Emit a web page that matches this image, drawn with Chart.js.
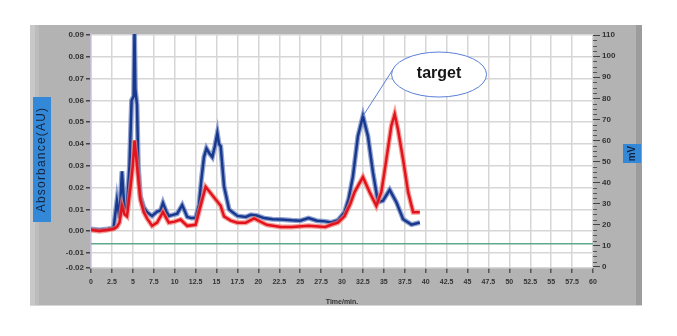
<!DOCTYPE html>
<html>
<head>
<meta charset="utf-8">
<script src="https://cdn.jsdelivr.net/npm/chart.js@4.4.0/dist/chart.umd.min.js"></script>
<style>
    html, body { margin: 0; padding: 0; background: #fff; }
</style>
</head>
<body>
<canvas id="chart" width="677" height="336"></canvas>
<script>
// Chromatogram - absorbance (AU, left axis) and detector signal (mV, right axis)

// --- Data ---
const blueTimes = [0, 1, 2, 2.7, 3.1, 3.4, 3.7, 4.0, 4.3, 4.6, 4.85, 5.1, 5.2, 5.3, 5.5, 5.65, 5.9, 6.3, 6.7, 7.3, 7.9, 8.3, 8.6, 9.0, 9.3, 9.8, 10.3, 10.9, 11.5, 12.0, 12.5, 12.9, 13.2, 13.5, 13.8, 14.1, 14.5, 14.8, 15.1, 15.3, 15.5, 15.9, 16.5, 17.0, 17.5, 18.5, 19.1, 19.8, 20.7, 21.7, 22.7, 24, 25, 26, 27, 28, 28.7, 29.5, 30.3, 30.8, 31.3, 31.9, 32.5, 33.1, 33.7, 34.3, 34.9, 35.7, 36.5, 37.3, 38.3, 39.3];
const blueAU = [0.001, 0.0005, 0.001, 0.0015, 0.014, 0.006, 0.0275, 0.010, 0.0115, 0.030, 0.060, 0.062, 0.092, 0.065, 0.058, 0.030, 0.016, 0.011, 0.0087, 0.007, 0.009, 0.0095, 0.013, 0.009, 0.007, 0.0075, 0.008, 0.012, 0.0065, 0.006, 0.006, 0.012, 0.024, 0.034, 0.038, 0.036, 0.034, 0.039, 0.045, 0.040, 0.039, 0.0206, 0.010, 0.0085, 0.007, 0.0065, 0.0075, 0.0072, 0.006, 0.0055, 0.0054, 0.005, 0.0048, 0.006, 0.0048, 0.0045, 0.004, 0.005, 0.0087, 0.015, 0.025, 0.0436, 0.0528, 0.0436, 0.027, 0.0133, 0.014, 0.019, 0.0133, 0.0055, 0.003, 0.004];

const redTimes = [0, 1, 2, 2.7, 3.1, 3.4, 3.7, 4.0, 4.3, 4.7, 5.0, 5.2, 5.5, 5.9, 6.3, 6.7, 7.3, 7.9, 8.6, 9.3, 10.0, 10.7, 11.5, 12.5, 13.1, 13.7, 14.1, 14.5, 15.1, 15.5, 15.9, 16.7, 17.5, 18.5, 19.5, 21, 22.7, 24, 26, 28, 28.7, 29.5, 30.3, 31, 31.5, 32.5, 33.3, 34.1, 34.7, 35.3, 35.9, 36.3, 36.7, 37.3, 37.9, 38.5, 39.3];
const redMV = [17.5, 17, 17.5, 18, 19, 21, 29, 25, 24, 37, 48, 60, 48, 32, 26, 23, 19.5, 21, 26, 21, 21.5, 22.5, 19.5, 20, 29, 38, 36, 34, 31, 29, 24, 22, 21, 21, 23, 20, 19, 19, 19.5, 19, 20, 21, 24, 30, 35.5, 42.6, 35.5, 29, 35.5, 51, 67, 72.5, 65, 51, 35.5, 26, 26];

const baselineTimes = [0, 60];
const baselineAU = [-0.0058, -0.0058];

const xTickValues = [0, 2.5, 5, 7.5, 10, 12.5, 15, 17.5, 20, 22.5, 25, 27.5, 30, 32.5, 35, 37.5, 40, 42.5, 45, 47.5, 50, 52.5, 55, 57.5, 60];
const leftTickValues = [-0.0169, -0.01, 0, 0.01, 0.02, 0.03, 0.04, 0.05, 0.06, 0.07, 0.08, 0.09];
const leftTickLabels = ['-0.02', '-0.01', '0.00', '0.01', '0.02', '0.03', '0.04', '0.05', '0.06', '0.07', '0.08', '0.09'];
const rightTickValues = [0, 10, 20, 30, 40, 50, 60, 70, 80, 90, 100, 110];

const toPoints = (xs, ys) => xs.map((x, i) => ({ x: x, y: ys[i] }));

const tickFont = { family: 'Arial, "Liberation Sans", sans-serif', size: 8, weight: 'bold' };

// Gray instrument panel, axis title boxes, annotation bubble
const panelPlugin = {
    id: 'panel',
    beforeDraw(chart) {
        const { ctx, chartArea: a } = chart;
        ctx.save();
        ctx.fillStyle = '#ffffff';
        ctx.fillRect(0, 0, chart.width, chart.height);
        ctx.fillStyle = '#b3b3b3';
        ctx.fillRect(30, 25, 612, 281);
        ctx.fillStyle = '#c8c8c8';
        ctx.fillRect(30, 25, 5, 281);
        ctx.fillStyle = '#bcbcbc';
        ctx.fillRect(35, 25, 4, 281);
        ctx.fillStyle = '#9c9c9c';
        ctx.fillRect(636, 25, 6, 281);
        ctx.fillStyle = '#d6d6d6';
        ctx.fillRect(30, 305, 612, 1);
        ctx.fillStyle = '#ffffff';
        ctx.fillRect(a.left, a.top, a.right - a.left, a.bottom - a.top);
        ctx.restore();
    },
    afterDraw(chart) {
        const { ctx, chartArea: a, scales } = chart;
        ctx.save();

        // minor ticks on the mV axis
        ctx.strokeStyle = '#555';
        ctx.lineWidth = 1;
        for (let v = 0; v < 110; v += 10) {
            [2.5, 5, 7.5].forEach(m => {
                const y = Math.round(scales.y1.getPixelForValue(v + m)) + 0.5;
                ctx.beginPath();
                ctx.moveTo(a.right, y);
                ctx.lineTo(a.right + 4, y);
                ctx.stroke();
            });
        }

        // left axis title box
        ctx.fillStyle = '#3389d8';
        ctx.fillRect(33, 97, 18, 125);
        ctx.translate(42, 159.5);
        ctx.rotate(-Math.PI / 2);
        ctx.fillStyle = '#15233d';
        ctx.font = '12px Arial, "Liberation Sans", sans-serif';
        ctx.letterSpacing = '1.2px';
        ctx.textAlign = 'center';
        ctx.textBaseline = 'middle';
        ctx.fillText('Absorbance(AU)', 0, 0);
        ctx.setTransform(1, 0, 0, 1, 0, 0);

        // right axis title box
        ctx.fillStyle = '#3389d8';
        ctx.fillRect(623, 144, 18, 19);
        ctx.translate(632, 153.5);
        ctx.rotate(-Math.PI / 2);
        ctx.fillStyle = '#15233d';
        ctx.font = 'bold 10px Arial, "Liberation Sans", sans-serif';
        ctx.letterSpacing = '0px';
        ctx.fillText('mV', 0, 0);
        ctx.setTransform(1, 0, 0, 1, 0, 0);

        // "target" callout pointing at the second blue peak
        const peakIdx = blueTimes.indexOf(32.5);
        const px = scales.x.getPixelForValue(blueTimes[peakIdx]);
        const py = scales.y.getPixelForValue(blueAU[peakIdx]);
        const cx = scales.x.getPixelForValue(41.6);
        const cy = scales.y.getPixelForValue(0.0719);
        const rx = 47.5, ry = 22.5;
        ctx.strokeStyle = '#5b7fd9';
        ctx.lineWidth = 1;
        ctx.beginPath();
        ctx.moveTo(px, py);
        ctx.lineTo(cx - rx + 2, cy - 6);
        ctx.stroke();
        ctx.fillStyle = '#ffffff';
        ctx.beginPath();
        ctx.ellipse(cx, cy, rx, ry, 0, 0, Math.PI * 2);
        ctx.fill();
        ctx.stroke();
        ctx.fillStyle = '#161616';
        ctx.font = 'bold 16px Arial, "Liberation Sans", sans-serif';
        ctx.textAlign = 'center';
        ctx.textBaseline = 'middle';
        ctx.fillText('target', cx, cy - 1);

        ctx.restore();
    }
};

// Dataset order: lower "order" is painted on top
new Chart(document.getElementById('chart'), {
    type: 'line',
    data: {
        datasets: [
            {
                label: 'baseline',
                data: toPoints(baselineTimes, baselineAU),
                yAxisID: 'y',
                borderColor: '#63a88c',
                borderWidth: 1.5,
                pointRadius: 0,
                order: 0
            },
            {
                label: 'mV',
                data: toPoints(redTimes, redMV),
                yAxisID: 'y1',
                borderColor: '#e3121c',
                borderWidth: 2.5,
                pointRadius: 0,
                order: 1
            },
            {
                label: 'mV halo',
                data: toPoints(redTimes, redMV),
                yAxisID: 'y1',
                borderColor: 'rgba(240, 120, 110, 0.7)',
                borderWidth: 5,
                pointRadius: 0,
                order: 2
            },
            {
                label: 'AU',
                data: toPoints(blueTimes, blueAU),
                yAxisID: 'y',
                borderColor: '#17388c',
                borderWidth: 2.5,
                pointRadius: 0,
                order: 3
            },
            {
                label: 'AU halo',
                data: toPoints(blueTimes, blueAU),
                yAxisID: 'y',
                borderColor: 'rgba(110, 132, 195, 0.75)',
                borderWidth: 5,
                pointRadius: 0,
                order: 4
            }
        ]
    },
    options: {
        responsive: false,
        animation: false,
        layout: { padding: { left: 30, right: 35, top: 34, bottom: 30 } },
        plugins: {
            legend: { display: false },
            tooltip: { enabled: false }
        },
        elements: { line: { tension: 0 } },
        scales: {
            x: {
                type: 'linear',
                min: 0,
                max: 60,
                afterBuildTicks: axis => { axis.ticks = xTickValues.map(v => ({ value: v })); },
                afterFit: axis => { axis.height = 38; },
                grid: { color: '#d6d6d6', lineWidth: 1.5, tickColor: '#555', tickLength: 5 },
                border: { display: false },
                ticks: {
                    autoSkip: false,
                    maxRotation: 0,
                    padding: 5,
                    color: '#333',
                    font: { family: tickFont.family, size: 7, weight: 'bold' },
                    callback: v => String(v)
                },
                title: {
                    display: true,
                    text: 'Time/min.',
                    color: '#333',
                    padding: { top: 2, bottom: 0 },
                    font: { family: tickFont.family, size: 7, weight: 'bold' }
                }
            },
            y: {
                type: 'linear',
                position: 'left',
                min: -0.0169,
                max: 0.0905,
                afterBuildTicks: axis => { axis.ticks = leftTickValues.map(v => ({ value: v })); },
                afterFit: axis => { axis.width = 61; },
                grid: { color: '#d6d6d6', lineWidth: 1.5, tickColor: '#444', tickLength: 5 },
                border: { display: true, color: '#c7bcd8', width: 1.5 },
                ticks: {
                    padding: 2,
                    color: '#333',
                    font: tickFont,
                    callback: (v, i) => leftTickLabels[i]
                }
            },
            y1: {
                type: 'linear',
                position: 'right',
                min: -0.5,
                max: 110.5,
                afterBuildTicks: axis => { axis.ticks = rightTickValues.map(v => ({ value: v })); },
                afterFit: axis => { axis.width = 49; },
                grid: { drawOnChartArea: false, tickColor: '#444', tickLength: 7 },
                border: { display: false },
                ticks: {
                    padding: 2,
                    color: '#333',
                    font: tickFont,
                    callback: v => String(v)
                }
            }
        }
    },
    plugins: [panelPlugin]
});
</script>
</body>
</html>
